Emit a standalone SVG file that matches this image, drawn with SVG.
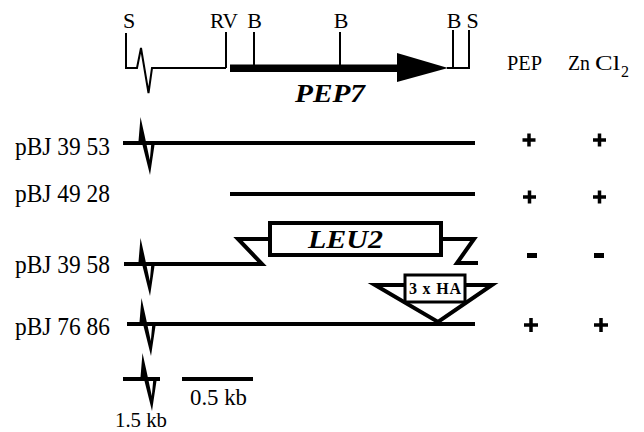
<svg xmlns="http://www.w3.org/2000/svg" width="644" height="432" viewBox="0 0 644 432">
<defs>
<style>
.t{font-family:"Liberation Serif","Times New Roman",serif;fill:#000}
.lbl{font-size:26px}
.site{font-size:22px}
.hdr{font-size:22px}
.gene{font-size:25px;font-weight:bold;font-style:italic}
.thin{stroke:#000;stroke-width:2;fill:none}
.thick{stroke:#000;stroke-width:4;fill:none}
.box{stroke:#000;stroke-width:4;fill:#fff}
.sign{stroke:#000;stroke-width:3.5;fill:none}
</style>
<polygon id="spike" points="-1,2 -1,-2 1.5,-2 3.5,-26 7.5,-8 12.8,17 14.5,-2 18,-2 18,2 17.5,2 13,32 5.5,2"/>
</defs>

<g id="map">
<polyline class="thin" points="126,33 126,68 137,68 141,48 148.5,93 152,68 226,68"/>
<line class="thin" x1="226" y1="32" x2="226" y2="68"/>
<line class="thin" x1="254" y1="32" x2="254" y2="68"/>
<line class="thin" x1="340" y1="32" x2="340" y2="68"/>
<rect x="230" y="64.5" width="170" height="7.5" fill="#000"/>
<polygon points="397,53 448,68 397,82" fill="#000"/>
<polyline class="thin" points="447,68 453,68 453,30 453,68 469,68 469,30"/>
<text class="t site" x="129" y="28" text-anchor="middle">S</text>
<text class="t site" x="210" y="28" textLength="28" lengthAdjust="spacingAndGlyphs">RV</text>
<text class="t site" x="254.5" y="28" text-anchor="middle">B</text>
<text class="t site" x="341" y="28" text-anchor="middle">B</text>
<text class="t site" x="454" y="28" text-anchor="middle">B</text>
<text class="t site" x="472.5" y="28" text-anchor="middle">S</text>
<text class="t gene" x="295" y="102" textLength="70" lengthAdjust="spacingAndGlyphs">PEP7</text>
</g>

<g id="header">
<text class="t hdr" x="507" y="70" textLength="35" lengthAdjust="spacingAndGlyphs">PEP</text>
<text class="t hdr" x="568" y="70" textLength="22" lengthAdjust="spacingAndGlyphs">Zn</text>
<text class="t hdr" x="595" y="70" textLength="25" lengthAdjust="spacingAndGlyphs">Cl</text>
<text class="t" x="621" y="77" font-size="16">2</text>
</g>

<g id="row-pBJ3953">
<text class="t lbl" x="15" y="155" textLength="95" lengthAdjust="spacingAndGlyphs">pBJ 39 53</text>
<line class="thick" x1="123" y1="143" x2="475" y2="143"/>
<use href="#spike" x="137" y="143"/>
<path class="sign" d="M522.5,140H535.5M529,133.5V146.5M593,140H606M599.5,133.5V146.5"/>
</g>

<g id="row-pBJ4928">
<text class="t lbl" x="15" y="202" textLength="95" lengthAdjust="spacingAndGlyphs">pBJ 49 28</text>
<line class="thick" x1="230" y1="194" x2="475" y2="194"/>
<path class="sign" d="M523,197H536M529.5,190.5V203.5M593,197H606M599.5,190.5V203.5"/>
</g>

<g id="row-pBJ3958">
<text class="t lbl" x="15" y="273" textLength="95" lengthAdjust="spacingAndGlyphs">pBJ 39 58</text>
<polyline class="thick" points="124,264 262,264 238,239 272,239" stroke-linejoin="miter"/>
<polyline class="thick" points="440,239 474,239 457,263 478,263" stroke-linejoin="miter"/>
<use href="#spike" x="137" y="264"/>
<g id="LEU2">
<rect class="box" x="270" y="223" width="171" height="32"/>
<text class="t gene" x="308" y="248" textLength="75" lengthAdjust="spacingAndGlyphs">LEU2</text>
</g>
<rect x="527" y="253" width="10" height="5" fill="#000"/>
<rect x="594" y="253" width="10" height="5" fill="#000"/>
</g>

<g id="row-pBJ7686">
<text class="t lbl" x="15" y="335" textLength="95" lengthAdjust="spacingAndGlyphs">pBJ 76 86</text>
<line class="thick" x1="127" y1="324" x2="475" y2="324"/>
<use href="#spike" x="138" y="324"/>
<path class="sign" d="M524,325H538M531,318V332M594,325H608M601,318V332"/>
</g>

<g id="HA">
<polygon class="box" points="375,285 492,285 438,322" stroke-linejoin="miter"/>
<rect x="405" y="275" width="60" height="27" fill="#fff" stroke="#000" stroke-width="3"/>
<text class="t" x="409" y="294" font-size="16" font-weight="bold" textLength="52" lengthAdjust="spacing">3 x HA</text>
</g>

<g id="scale">
<line class="thick" x1="123" y1="379" x2="160" y2="379"/>
<use href="#spike" x="139" y="379"/>
<line class="thick" x1="182" y1="379" x2="253" y2="379"/>
<text class="t" x="190" y="405" font-size="23" textLength="57" lengthAdjust="spacingAndGlyphs">0.5 kb</text>
<text class="t" x="115" y="427" font-size="22" textLength="52" lengthAdjust="spacingAndGlyphs">1.5 kb</text>
</g>
</svg>
